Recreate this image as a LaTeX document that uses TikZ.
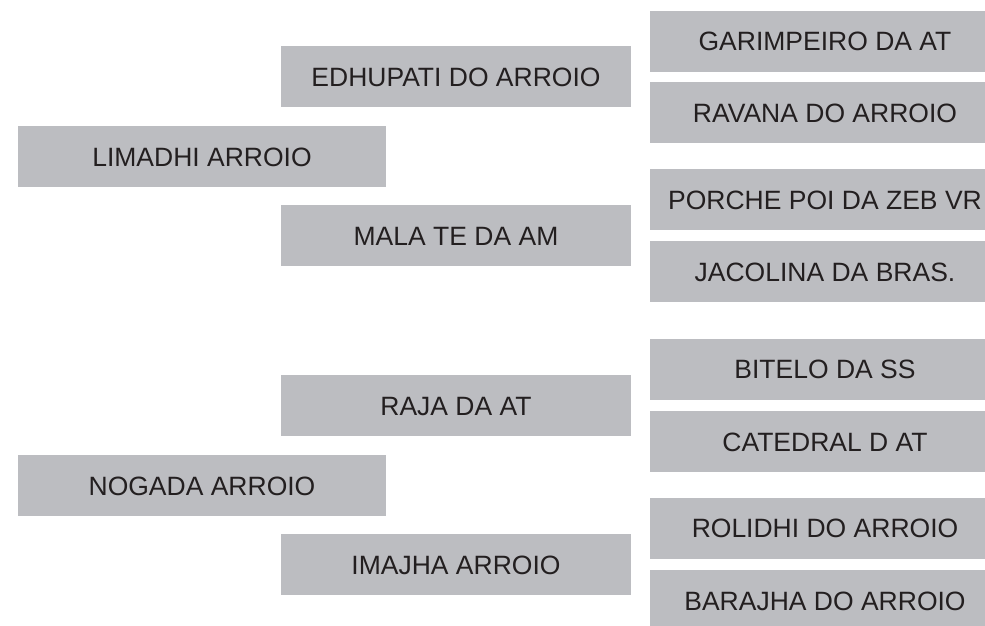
\documentclass[tikz,border=0pt]{standalone}
\usepackage{fontspec}
\setmainfont{Liberation Sans}
\definecolor{boxgray}{RGB}{188,189,193}
\definecolor{txt}{RGB}{35,31,32}
\begin{document}
\begin{tikzpicture}[x=1pt,y=-1pt,
  box/.style={rectangle, fill=boxgray, inner sep=0pt, minimum height=61pt,
    text=txt, font=\fontsize{26.5}{26.5}\selectfont, text height=19pt, text depth=0pt},
  wbox/.style={box, minimum width=350pt},
  lbox/.style={box, minimum width=368pt}]
\useasboundingbox (0,0) rectangle (985,626);
\clip (0,0) rectangle (985,626);
\node[wbox] (garimpeiro) at (825,41.5) {GARIMPEIRO DA AT};
\node[wbox] (ravana) at (825,112.5) {RAVANA DO ARROIO};
\node[wbox] (porche) at (825,199.5) {PORCHE POI DA ZEB VR};
\node[wbox] (jacolina) at (825,271.5) {JACOLINA DA BRAS.};
\node[wbox] (bitelo) at (825,369) {BITELO DA SS};
\node[wbox] (catedral) at (825,441.5) {CATEDRAL D AT};
\node[wbox] (rolidhi) at (825,528) {ROLIDHI DO ARROIO};
\node[wbox] (barajha) at (825,600.5) {BARAJHA DO ARROIO};
\node[wbox] (edhupati) at (456,76.5) {EDHUPATI DO ARROIO};
\node[wbox] (mala) at (456,235.5) {MALA TE DA AM};
\node[wbox] (raja) at (456,405.5) {RAJA DA AT};
\node[wbox] (imajha) at (456,564.5) {IMAJHA ARROIO};
\node[lbox] (limadhi) at (202,156.5) {LIMADHI ARROIO};
\node[lbox] (nogada) at (202,485.5) {NOGADA ARROIO};
\end{tikzpicture}
\end{document}
